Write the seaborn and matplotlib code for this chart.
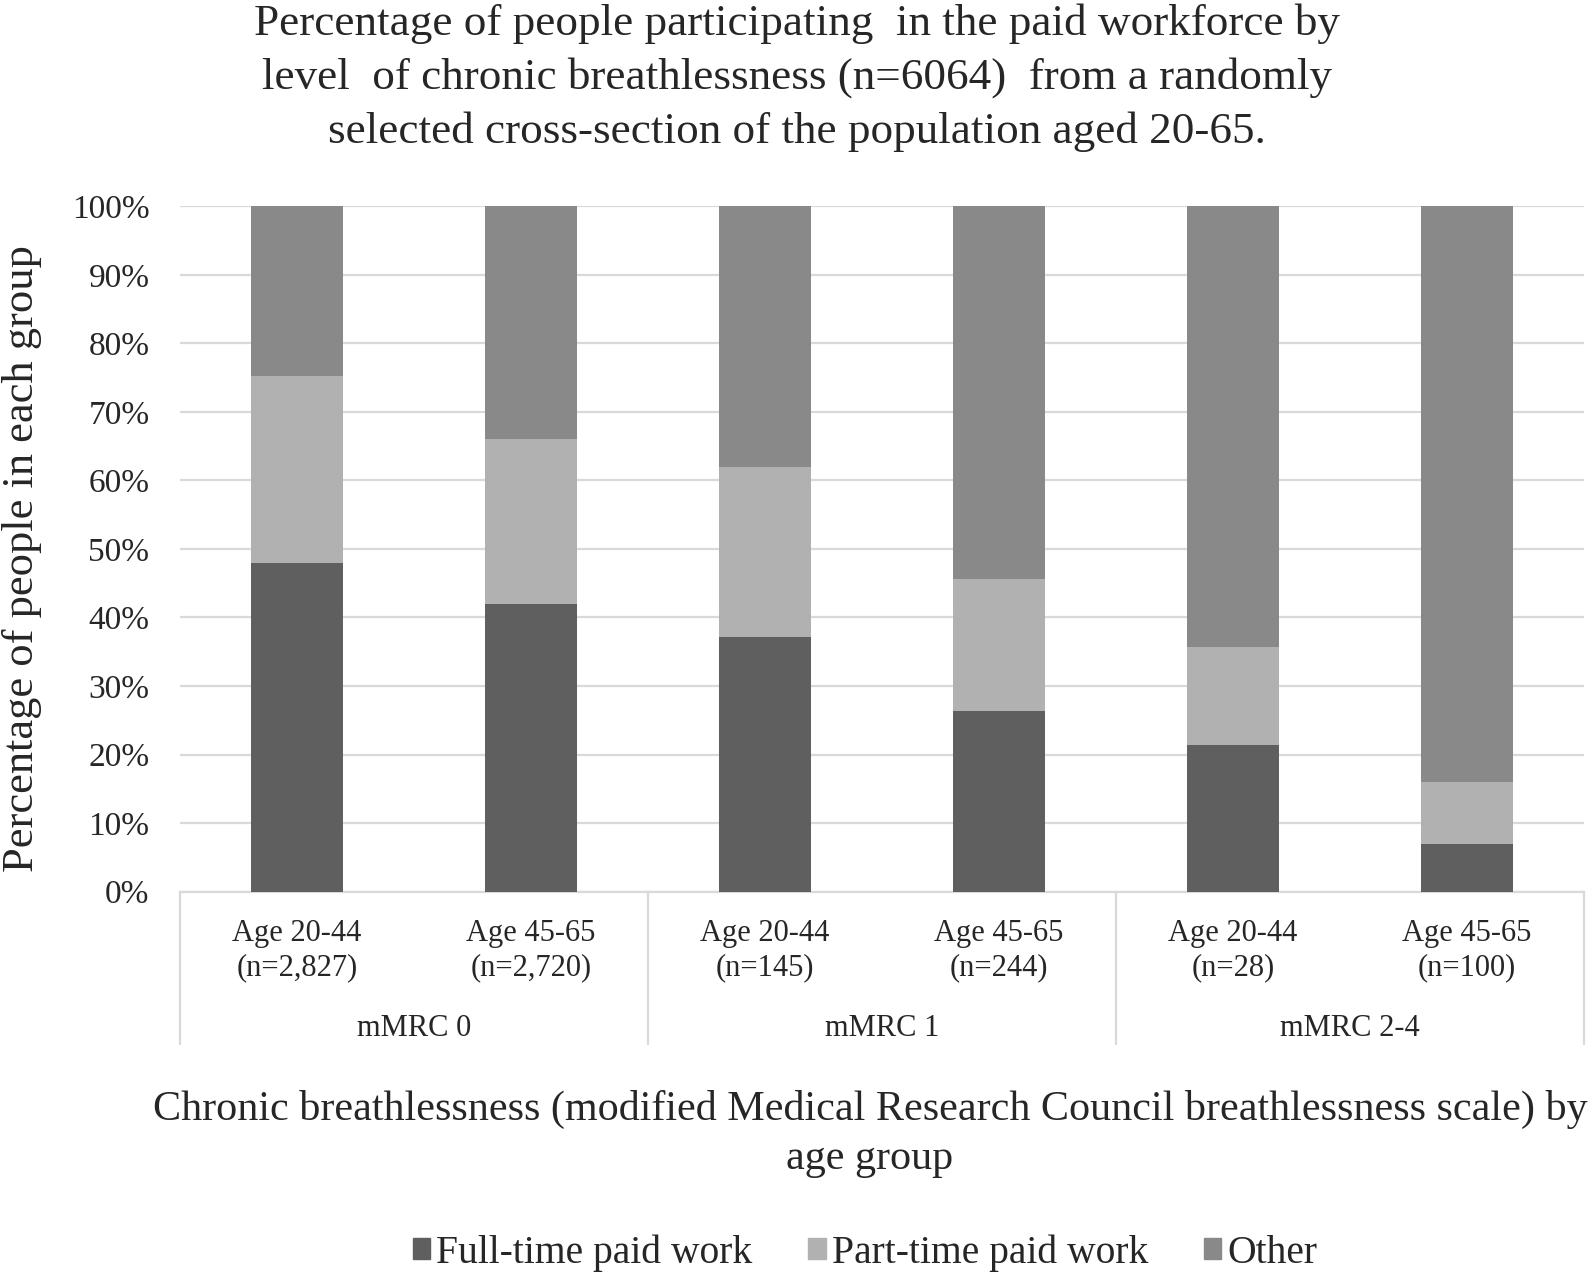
import matplotlib
matplotlib.use("Agg")
import pandas as pd
import seaborn as sns
import matplotlib.pyplot as plt
from matplotlib.patches import Patch
import matplotlib.transforms as mtransforms

# Data (percent of each group)
groups = ["mMRC 0", "mMRC 1", "mMRC 2-4"]
bar_labels = ["Age 20-44\n(n=2,827)", "Age 45-65\n(n=2,720)",
              "Age 20-44\n(n=145)", "Age 45-65\n(n=244)",
              "Age 20-44\n(n=28)", "Age 45-65\n(n=100)"]
full_time = [48.0, 42.0, 37.2, 26.3, 21.4, 7.0]
part_time = [27.2, 24.0, 24.8, 19.3, 14.3, 9.0]
other = [24.8, 34.0, 38.0, 54.4, 64.3, 84.0]

series = ["Full-time paid work", "Part-time paid work", "Other"]
colors = ["#5f5f5f", "#b1b1b1", "#898989"]

df = pd.DataFrame({"bar": bar_labels, "full": full_time,
                   "part": part_time, "other": other})
df["cum_full"] = df["full"]
df["cum_part"] = df["full"] + df["part"]
df["cum_other"] = df["cum_part"] + df["other"]

sns.set_theme(style="white")
plt.rcParams["font.family"] = ["Liberation Serif", "DejaVu Serif"]

fig = plt.figure(figsize=(15.94, 12.8), dpi=100)
ax = fig.add_axes([0.1129, 0.3035, 0.8808, 0.5352])

# stacked bars: draw cumulative totals from the top segment down
for col, c in [("cum_other", colors[2]), ("cum_part", colors[1]), ("cum_full", colors[0])]:
    sns.barplot(data=df, x="bar", y=col, color=c, width=0.39, saturation=1,
                linewidth=0, ax=ax, zorder=3, order=bar_labels)

ax.set_ylim(0, 100)
ax.set_xlim(-0.5, len(bar_labels) - 0.5)
ax.set_yticks(range(0, 101, 10))
ax.set_yticklabels([f"{v}%" for v in range(0, 101, 10)], fontsize=24)
ax.yaxis.grid(True, color="#d9d9d9", linewidth=1.6, zorder=0)
ax.tick_params(axis="y", length=0, pad=22)
ax.tick_params(axis="x", length=0, pad=20)
ax.set_xticks(range(len(bar_labels)))
ax.set_xticklabels(bar_labels, fontsize=22, linespacing=1.23)
ax.set_xlabel("")
ax.set_ylabel("")
for s in ["left", "right", "top"]:
    ax.spines[s].set_visible(False)
ax.spines["bottom"].set_color("#d9d9d9")
ax.spines["bottom"].set_linewidth(1.6)

# group separators and group labels below the axis
trans = mtransforms.blended_transform_factory(ax.transData, ax.transAxes)
for xs in [-0.5, 1.5, 3.5, 5.5]:
    ax.plot([xs, xs], [0, -0.2226], transform=trans, color="#d9d9d9",
            linewidth=1.6, clip_on=False)
for i, g in enumerate(groups):
    ax.text(2 * i + 0.5, -0.2, g, transform=trans, ha="center", va="center",
            fontsize=22)

fig.text(0.5, 1 - 4 / 1280,
         "Percentage of people participating  in the paid workforce by\n"
         "level  of chronic breathlessness (n=6064)  from a randomly\n"
         "selected cross-section of the population aged 20-65.",
         ha="center", va="top", fontsize=32.5, linespacing=1.41)

fig.text(22 / 1594, 1 - 559 / 1280, "Percentage of people in each group",
         rotation=90, ha="center", va="center", fontsize=32)

fig.text(870 / 1594, 1 - 1134 / 1280,
         "Chronic breathlessness (modified Medical Research Council breathlessness scale) by\nage group",
         ha="center", va="center", fontsize=30.3, linespacing=1.35)

handles = [Patch(facecolor=c, edgecolor=c) for c in colors]
fig.legend(handles, series, loc="center", bbox_to_anchor=(865 / 1594, 1 - 1253 / 1280),
           ncol=3, frameon=False, fontsize=28.5, handlelength=0.45, handleheight=0.45,
           handletextpad=0.15, columnspacing=1.4)

plt.savefig("out.png", dpi=100)
